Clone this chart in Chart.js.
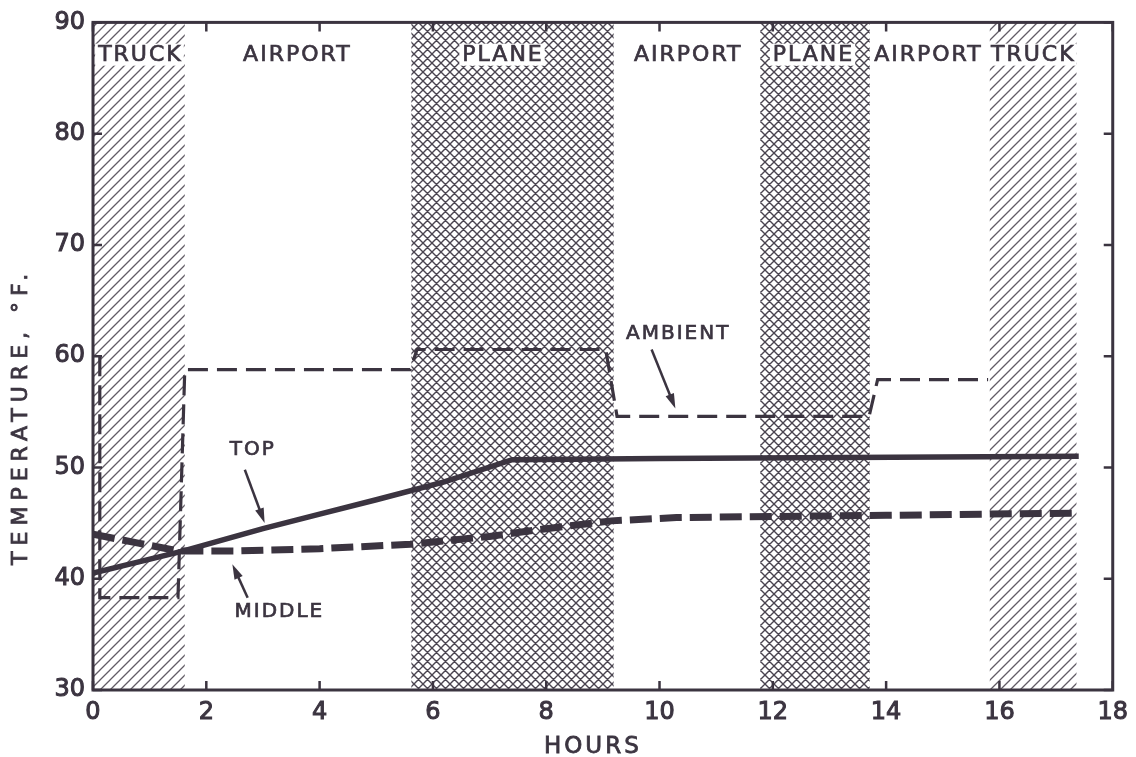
<!DOCTYPE html>
<html>
<head>
<meta charset="utf-8">
<title>Temperature during shipment</title>
<script src="https://cdn.jsdelivr.net/npm/chart.js@4.4.1/dist/chart.umd.min.js"></script>
<style>
    html, body { margin: 0; padding: 0; background: #ffffff; }
    #myChart { display: block; }
</style>
</head>
<body>
<canvas id="myChart" width="1136" height="757"></canvas>
<script>
var INK = '#3b3440';
var FONT = '"DejaVu Sans", sans-serif';

// shipment stages along the time axis (hours)
var bandStart = [0, 1.62, 5.62, 9.19, 11.78, 13.71, 15.83];
var bandEnd = [1.62, 5.62, 9.19, 11.78, 13.71, 15.83, 17.36];
var bandNames = ['TRUCK', 'AIRPORT', 'PLANE', 'AIRPORT', 'PLANE', 'AIRPORT', 'TRUCK'];
var bandLabelX = [0.82, 3.59, 7.22, 10.49, 12.7, 14.73, 16.58];
var bandLabelY = 87.1;

// temperature readings, deg F
var topHours = [0, 1.6, 3, 4, 5, 6.2, 7.4, 10, 17.4];
var topTemps = [40.5, 42.5, 44.5, 45.8, 47.1, 48.7, 50.7, 50.8, 51.0];

var middleHours = [0, 0.8, 1.5, 2.5, 4, 5.6, 7, 8, 9.15, 10.3, 14, 17.4];
var middleTemps = [44.0, 43.2, 42.5, 42.5, 42.7, 43.1, 43.8, 44.5, 45.2, 45.5, 45.7, 45.9];

var ambientHours = [0.12, 0.12, 1.5, 1.62, 5.6, 5.72, 9.05, 9.25, 13.7, 13.85, 15.8];
var ambientTemps = [60.0, 38.3, 38.3, 58.8, 58.8, 60.6, 60.6, 54.6, 54.6, 57.9, 57.9];

var xTicks = [0, 2, 4, 6, 8, 10, 12, 14, 16, 18];
var yTicks = [30, 40, 50, 60, 70, 80, 90];

// curve labels with arrows
var noteText = ['TOP', 'MIDDLE', 'AMBIENT'];
var noteX = [2.82, 3.29, 10.33];
var noteY = [51.6, 37.0, 62.0];
var arrowFromX = [2.68, 2.73, 9.86];
var arrowFromY = [49.8, 38.3, 60.6];
var arrowToX = [3.03, 2.46, 10.28];
var arrowToY = [45.0, 41.3, 55.3];

var toPoints = (xs, ys) => {
    let pts = [];
    for (let i = 0; i < xs.length; i++) {
        pts.push({ x: xs[i], y: ys[i] });
    }
    return pts;
}

var makeHatch = (ctx, size, cross, lw, color) => {
    let c = document.createElement('canvas');
    c.width = size;
    c.height = size;
    let g = c.getContext('2d');
    g.strokeStyle = color;
    g.lineWidth = lw;
    g.beginPath();
    g.moveTo(-1, size + 1); g.lineTo(size + 1, -1);
    g.moveTo(-size / 2, size / 2); g.lineTo(size / 2, -size / 2);
    g.moveTo(size / 2, size * 1.5); g.lineTo(size * 1.5, size / 2);
    if (cross) {
        g.moveTo(-1, -1); g.lineTo(size + 1, size + 1);
        g.moveTo(-size / 2, size / 2); g.lineTo(size / 2, size * 1.5);
        g.moveTo(size / 2, -size / 2); g.lineTo(size * 1.5, size / 2);
    }
    g.stroke();
    return ctx.createPattern(c, 'repeat');
}

// heavier text, like the old lettering guide
var boldText = (ctx, text, x, y, sw) => {
    ctx.lineWidth = sw;
    ctx.strokeStyle = INK;
    ctx.fillStyle = INK;
    ctx.strokeText(text, x, y);
    ctx.fillText(text, x, y);
}

var bandsPlugin = {
    id: 'bands',
    beforeDatasetsDraw(chart) {
        const ctx = chart.ctx;
        const area = chart.chartArea;
        const xs = chart.scales.x;
        const ys = chart.scales.y;
        const truck = makeHatch(ctx, 10, false, 1.3, '#625c66');
        const plane = makeHatch(ctx, 9, true, 1.4, '#4a4450');
        ctx.save();
        for (let i = 0; i < bandNames.length; i++) {
            const x0 = xs.getPixelForValue(bandStart[i]);
            const x1 = xs.getPixelForValue(bandEnd[i]);
            if (bandNames[i] == 'TRUCK') {
                ctx.fillStyle = truck;
            } else if (bandNames[i] == 'PLANE') {
                ctx.fillStyle = plane;
            } else {
                continue;
            }
            ctx.fillRect(x0, area.top, x1 - x0, area.bottom - area.top);
        }
        ctx.font = '22px ' + FONT;
        ctx.letterSpacing = '2px';
        ctx.textAlign = 'center';
        ctx.textBaseline = 'middle';
        for (let i = 0; i < bandNames.length; i++) {
            const lx = xs.getPixelForValue(bandLabelX[i]);
            const ly = ys.getPixelForValue(bandLabelY);
            const w = ctx.measureText(bandNames[i]).width;
            ctx.fillStyle = '#ffffff';
            ctx.fillRect(lx - w / 2 - 2, ly - 11, w + 4, 22);
            boldText(ctx, bandNames[i], lx + 1, ly + 1, 0.7);
        }
        ctx.restore();
    },
    afterDraw(chart) {
        const ctx = chart.ctx;
        const area = chart.chartArea;
        const xs = chart.scales.x;
        const ys = chart.scales.y;
        ctx.save();
        // frame with inward ticks
        ctx.strokeStyle = INK;
        ctx.lineWidth = 3;
        ctx.strokeRect(area.left, area.top, area.right - area.left, area.bottom - area.top);
        ctx.lineWidth = 2.5;
        ctx.beginPath();
        for (let i = 0; i < xTicks.length; i++) {
            const px = xs.getPixelForValue(xTicks[i]);
            ctx.moveTo(px, area.bottom); ctx.lineTo(px, area.bottom - 9);
            ctx.moveTo(px, area.top); ctx.lineTo(px, area.top + 9);
        }
        for (let i = 0; i < yTicks.length; i++) {
            const py = ys.getPixelForValue(yTicks[i]);
            ctx.moveTo(area.left, py); ctx.lineTo(area.left + 9, py);
            ctx.moveTo(area.right, py); ctx.lineTo(area.right - 9, py);
        }
        ctx.stroke();

        // notes and arrows
        ctx.fillStyle = INK;
        ctx.font = '20px ' + FONT;
        ctx.letterSpacing = '2px';
        ctx.textAlign = 'center';
        ctx.textBaseline = 'middle';
        for (let i = 0; i < noteText.length; i++) {
            boldText(ctx, noteText[i], xs.getPixelForValue(noteX[i]), ys.getPixelForValue(noteY[i]), 0.7);
            const ax = xs.getPixelForValue(arrowFromX[i]);
            const ay = ys.getPixelForValue(arrowFromY[i]);
            const bx = xs.getPixelForValue(arrowToX[i]);
            const by = ys.getPixelForValue(arrowToY[i]);
            const ang = Math.atan2(by - ay, bx - ax);
            ctx.lineWidth = 2.5;
            ctx.beginPath();
            ctx.moveTo(ax, ay);
            ctx.lineTo(bx - 10 * Math.cos(ang), by - 10 * Math.sin(ang));
            ctx.stroke();
            ctx.beginPath();
            ctx.moveTo(bx, by);
            ctx.lineTo(bx - 15 * Math.cos(ang) + 4.5 * Math.sin(ang), by - 15 * Math.sin(ang) - 4.5 * Math.cos(ang));
            ctx.lineTo(bx - 15 * Math.cos(ang) - 4.5 * Math.sin(ang), by - 15 * Math.sin(ang) + 4.5 * Math.cos(ang));
            ctx.closePath();
            ctx.fill();
        }

        // axis titles
        ctx.font = '23px ' + FONT;
        ctx.letterSpacing = '3px';
        boldText(ctx, 'HOURS', (area.left + area.right) / 2 - 10, area.bottom + 57, 0.8);
        ctx.translate(21, area.top + 394);
        ctx.rotate(-Math.PI / 2);
        ctx.font = '22px ' + FONT;
        ctx.letterSpacing = '6px';
        boldText(ctx, 'TEMPERATURE, \u00B0F.', 0, 0, 0.8);
        ctx.restore();
    }
};

window.onload = () => {
    const ctx = document.getElementById('myChart').getContext('2d');
    const data = {
        datasets: [{
            label: 'Ambient',
            data: toPoints(ambientHours, ambientTemps),
            borderColor: INK,
            borderWidth: 3.2,
            borderDash: [20, 9],
            pointRadius: 0,
            fill: false
        },
        {
            label: 'Top',
            data: toPoints(topHours, topTemps),
            borderColor: INK,
            borderWidth: 5.5,
            pointRadius: 0,
            fill: false
        },
        {
            label: 'Middle',
            data: toPoints(middleHours, middleTemps),
            borderColor: INK,
            borderWidth: 7,
            borderDash: [22, 8],
            pointRadius: 0,
            fill: false
        }]
    };

    const tickStyle = {
        padding: 8,
        color: INK,
        textStrokeColor: INK,
        textStrokeWidth: 1,
        font: { family: FONT, size: 24 }
    };

    new Chart(ctx, {
        type: 'line',
        data: data,
        plugins: [bandsPlugin],
        options: {
            responsive: false,
            animation: false,
            layout: { padding: { left: 0, top: 18, right: 23, bottom: 0 } },
            plugins: {
                legend: { display: false },
                tooltip: { enabled: false }
            },
            scales: {
                x: {
                    type: 'linear',
                    min: 0,
                    max: 18,
                    afterFit: (scale) => { scale.height = 67; },
                    afterBuildTicks: (scale) => { scale.ticks = xTicks.map(v => ({ value: v })); },
                    grid: { display: false, drawTicks: false },
                    border: { display: false },
                    ticks: tickStyle
                },
                y: {
                    type: 'linear',
                    min: 30,
                    max: 90,
                    afterFit: (scale) => { scale.width = 93; },
                    afterBuildTicks: (scale) => { scale.ticks = yTicks.map(v => ({ value: v })); },
                    grid: { display: false, drawTicks: false },
                    border: { display: false },
                    ticks: tickStyle
                }
            }
        }
    });
}
</script>
</body>
</html>
